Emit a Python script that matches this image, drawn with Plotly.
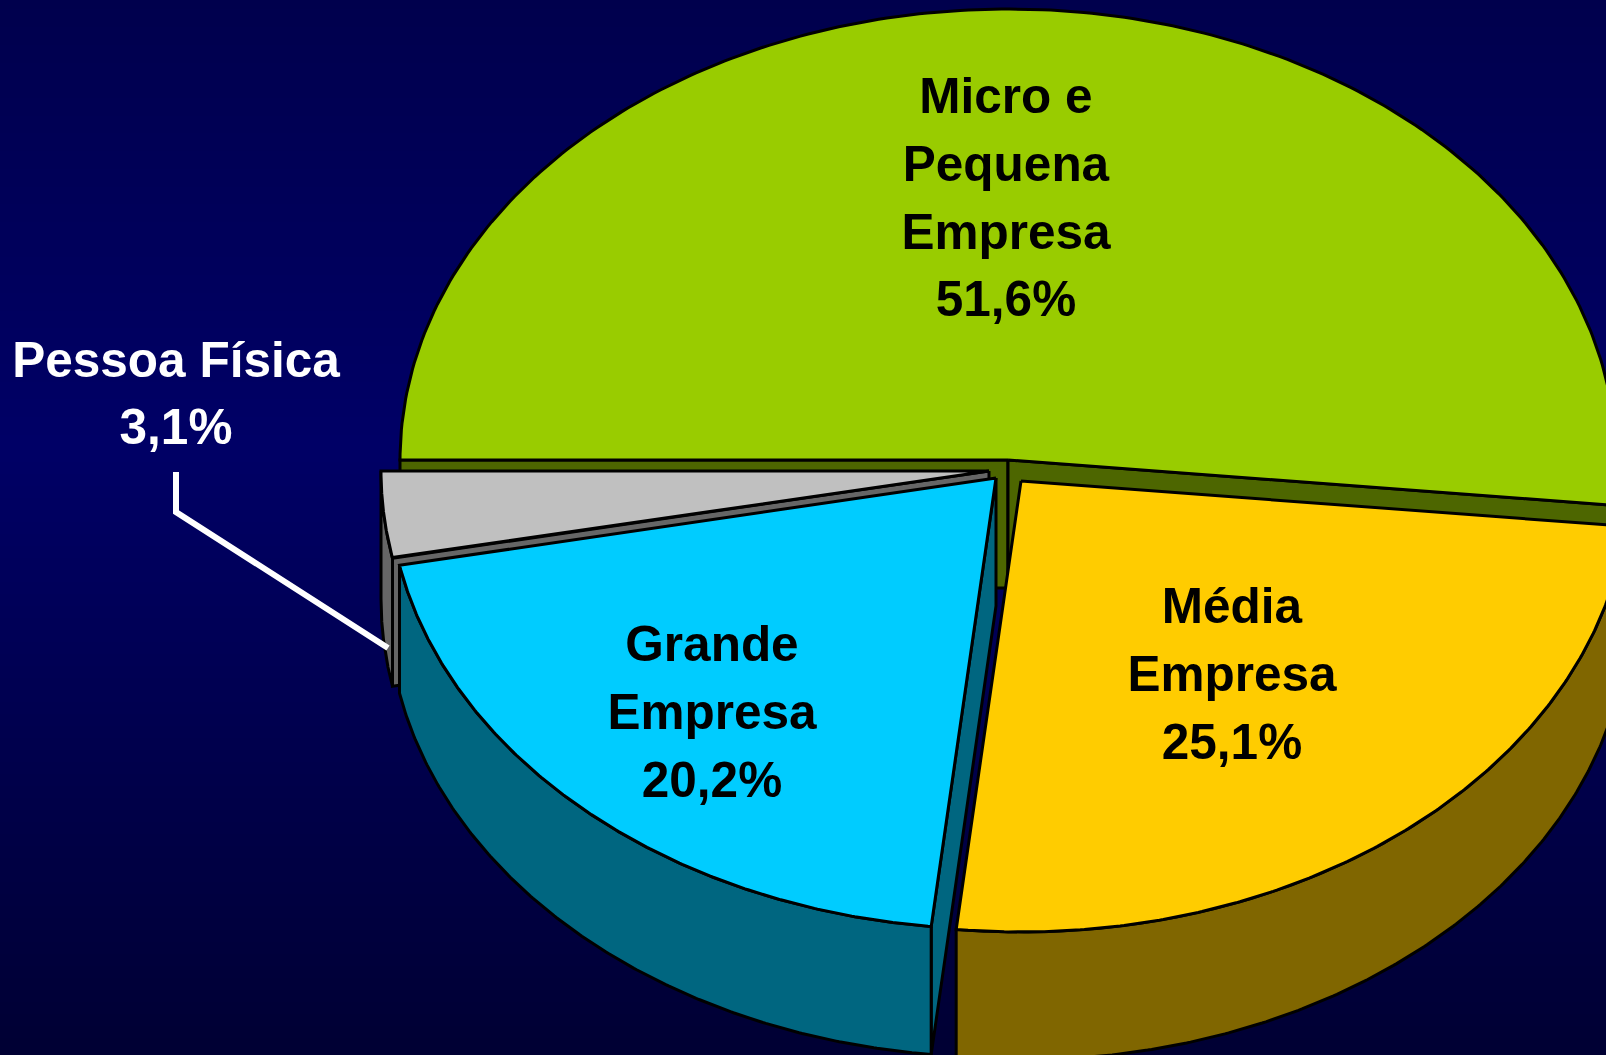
import numpy as np
import plotly.graph_objects as go

# Data (clockwise from the left edge of the pie)
categories = ["Micro e Pequena Empresa", "Média Empresa", "Grande Empresa", "Pessoa Física"]
shares = [51.6, 25.1, 20.2, 3.1]
label_words = [["Micro e", "Pequena", "Empresa"], ["Média", "Empresa"], ["Grande", "Empresa"], ["Pessoa Física"]]

# Styles and layout (pixels of the 1606x1055 canvas)
top_colors = ["#99cc00", "#ffcc00", "#00ccff", "#c0c0c0"]
wall_colors = ["#4d6600", "#806600", "#006680", "#666666"]
apex_x = [1008, 1021, 996, 989]
apex_y = [460, 481, 478, 471]
label_x = [1006, 1232, 712, 176]
label_y = [101, 611, 649, 364.5]
label_colors = ["#000000", "#000000", "#000000", "#ffffff"]
line_step = 67.6
RX, RY, DEPTH = 608, 451, 128
OUTLINE = 3
W, H = 1606, 1055
callout_x = [176, 176, 388]
callout_y = [472, 512, 648]
bg_stops = [[0, "#00004d"], [0.42, "#000066"], [1, "#000033"]]

# Slice angles come from the shares: clockwise from the left
edges = 180 - np.concatenate([[0], np.cumsum(np.array(shares) / 100 * 360)])


def pts(i, a0, a1, n=240):
    t = np.radians(np.linspace(a0, a1, n))
    return apex_x[i] + RX * np.cos(t), apex_y[i] - RY * np.sin(t)


fig = go.Figure()

bg_y = np.arange(0, H + 5, 5)
fig.add_trace(go.Heatmap(x=[0, W], y=bg_y, z=[[v, v] for v in bg_y], colorscale=bg_stops,
                         zmin=0, zmax=H, showscale=False, hoverinfo="skip", zsmooth="best"))


def poly(xs, ys, color):
    fig.add_trace(go.Scatter(x=xs, y=ys, mode="lines", fill="toself", fillcolor=color,
                             line=dict(color="#000000", width=OUTLINE), hoverinfo="skip",
                             showlegend=False))


def radial_wall(i, a):
    ex, ey = pts(i, a, a, n=1)
    cx, cy = apex_x[i], apex_y[i]
    poly([cx, ex[0], ex[0], cx, cx], [cy, ey[0], ey[0] + DEPTH, cy + DEPTH, cy], wall_colors[i])


def slice_3d(i, radial_angles):
    a0, a1 = edges[i], edges[i + 1]
    for a in radial_angles:
        radial_wall(i, a)
    # outer rim only where it faces the viewer (lower half of the ellipse)
    r0 = 0 if a0 > 0 and a1 < 0 else a0
    xs, ys = pts(i, r0, a1)
    poly(np.r_[xs, xs[::-1], xs[0]], np.r_[ys, ys[::-1] + DEPTH, ys[0]], wall_colors[i])
    tx, ty = pts(i, a0, a1)
    poly(np.r_[apex_x[i], tx, apex_x[i]], np.r_[apex_y[i], ty, apex_y[i]], top_colors[i])


# Painter's order: back to front
slice_3d(0, [edges[0], edges[1]])
slice_3d(3, [edges[3]])
slice_3d(2, [edges[2]])
slice_3d(1, [])

fig.add_trace(go.Scatter(x=callout_x, y=callout_y, mode="lines", hoverinfo="skip", showlegend=False,
                         line=dict(color="#ffffff", width=6)))

for i, cat in enumerate(categories):
    value = f"{shares[i]:.1f}".replace(".", ",") + "%"
    lines = label_words[i] + [value]
    fig.add_trace(go.Scatter(
        x=[label_x[i]] * len(lines),
        y=[label_y[i] + k * line_step for k in range(len(lines))],
        text=lines, mode="text", textposition="middle center", hoverinfo="skip", showlegend=False,
        textfont=dict(family="Liberation Sans", size=49.5, color=label_colors[i], weight="bold"),
    ))

fig.update_layout(
    width=W, height=H, margin=dict(l=0, r=0, t=0, b=0), showlegend=False,
    paper_bgcolor="#000066", plot_bgcolor="#000066",
    xaxis=dict(range=[0, W], visible=False, fixedrange=True),
    yaxis=dict(range=[H, 0], visible=False, fixedrange=True),
)
fig.write_html("out.html", config={"displayModeBar": False},
               post_script="document.body.style.margin='0';document.body.style.overflow='hidden';")
